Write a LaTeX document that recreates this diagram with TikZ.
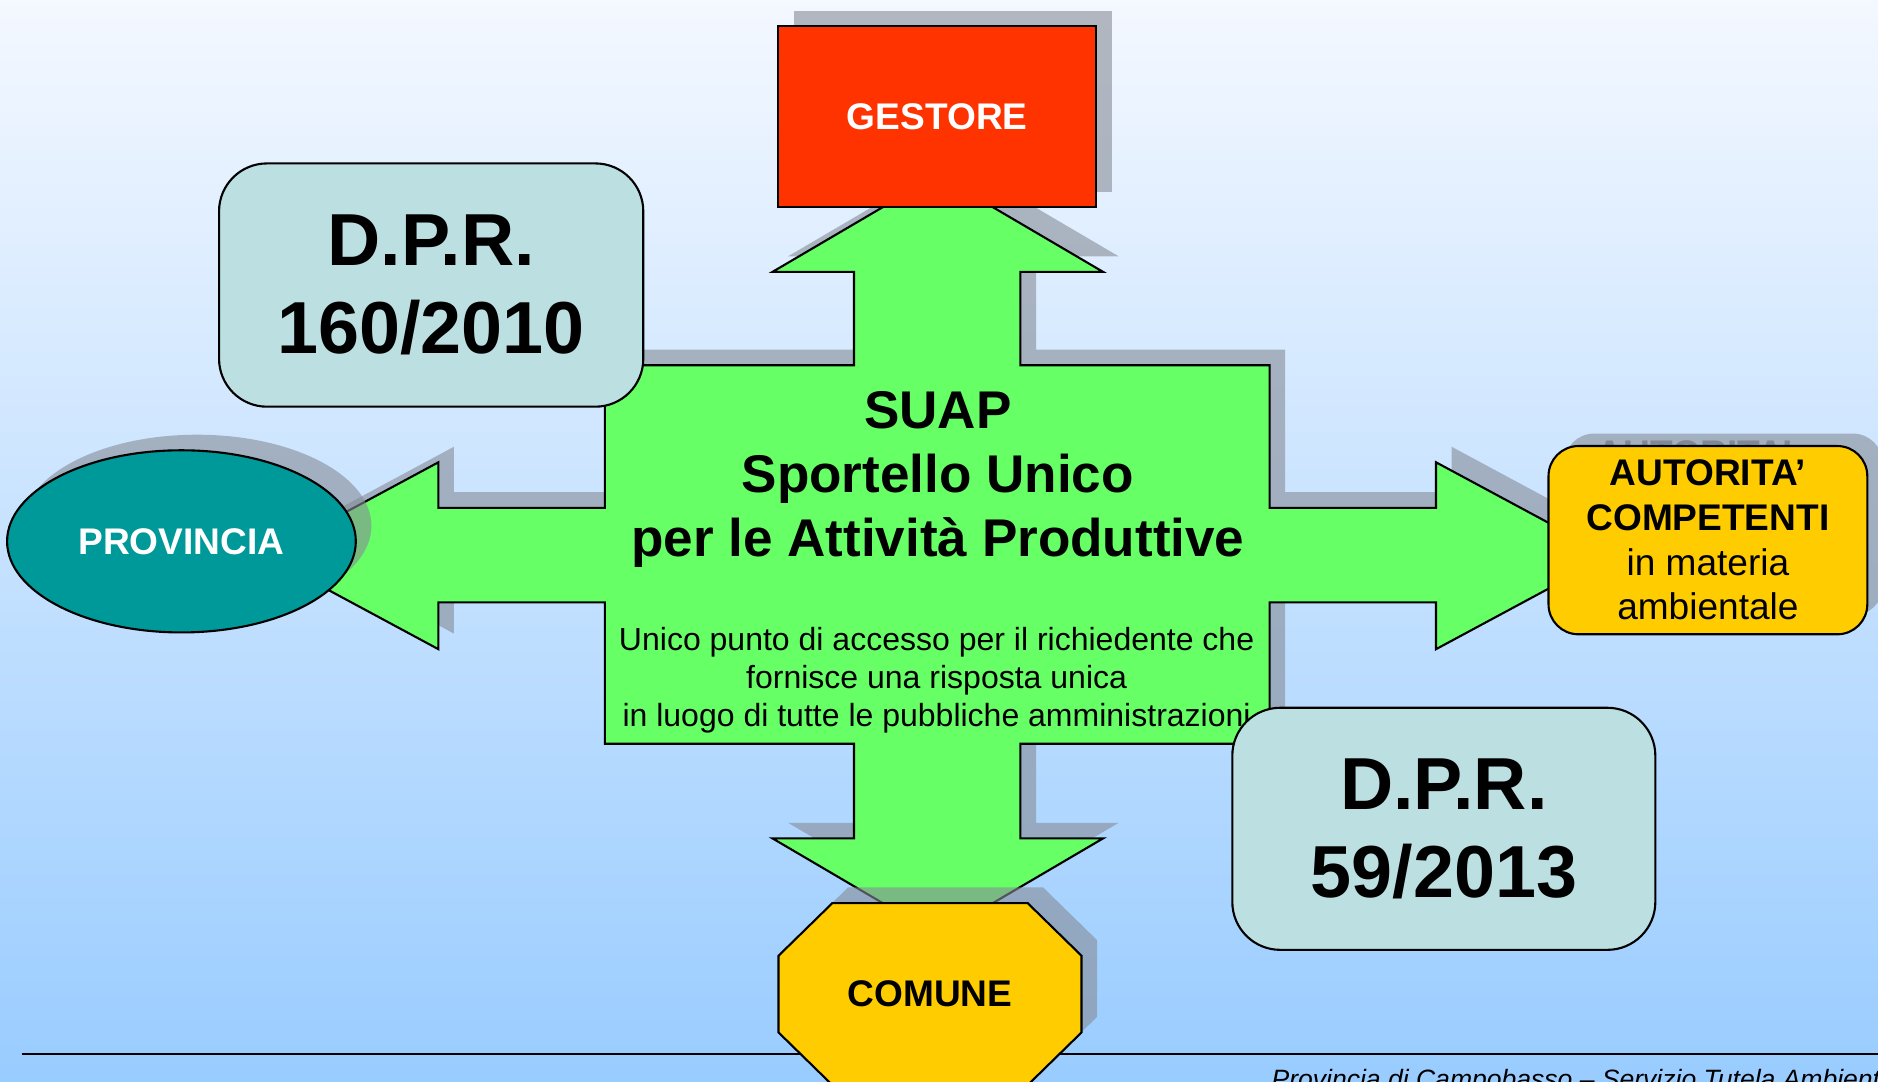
\documentclass[tikz,border=0pt]{standalone}
\usepackage{fontspec}
\setmainfont{Liberation Sans}
\usepackage{tikz}
\usetikzlibrary{shapes.geometric,shadows}

\definecolor{suapgreen}{RGB}{102,255,102}
\definecolor{gestred}{RGB}{255,51,0}
\definecolor{provteal}{RGB}{0,153,153}
\definecolor{autyellow}{RGB}{255,204,0}
\definecolor{dprblue}{RGB}{188,224,226}
\definecolor{shadowgray}{RGB}{134,140,150}
\definecolor{bgtop}{RGB}{244,248,255}
\definecolor{bgbottom}{RGB}{153,204,255}

\newcommand{\labfont}{\fontsize{8.8pt}{10.6pt}\selectfont}
\newcommand{\dprfont}{\fontsize{17.5pt}{21pt}\selectfont\bfseries}
\newcommand{\suapfont}{\fontsize{12.6pt}{15.2pt}\selectfont\bfseries}
\newcommand{\bodyfont}{\fontsize{7.6pt}{9.1pt}\selectfont}
\newcommand{\footfont}{\fontsize{6.3pt}{7.5pt}\selectfont\itshape}

\tikzset{
  box/.style={draw=black, line width=0.5pt},
  shadowed/.style={drop shadow={shadow xshift=0.13cm, shadow yshift=0.13cm, fill=shadowgray, opacity=0.6}},
}

\begin{document}
\begin{tikzpicture}[x=0.01cm,y=-0.01cm]
    \useasboundingbox (0,0) rectangle (1568,903);
    \clip (0,0) rectangle (1568,903);
    \shade[top color=bgtop, bottom color=bgbottom] (0,0) rectangle (1568,903);
    \draw[line width=0.5pt] (18,880) -- (1568,880);

    \filldraw[box, fill=suapgreen, shadowed] (505,305) -- (713,305) -- (713,227) -- (645,227) -- (783,146) -- (921,227) -- (852,227) -- (852,305)
        -- (1060,305) -- (1060,424) -- (1199,424) -- (1199,386) -- (1344,464) -- (1199,542) -- (1199,503) -- (1060,503)
        -- (1060,621) -- (852,621) -- (852,700) -- (921,700) -- (783,781) -- (645,700) -- (713,700) -- (713,621)
        -- (505,621) -- (505,503) -- (366,503) -- (366,542) -- (221,464) -- (366,386) -- (366,424) -- (505,424) -- cycle;

    \node[box, fill=gestred, shadowed, minimum width=2.65cm, minimum height=1.51cm, text=white, font=\labfont\bfseries] (gestore) at (782.5,97.5) {GESTORE};
    \node[box, ellipse, fill=provteal, shadowed, minimum width=2.91cm, minimum height=1.52cm, inner sep=0pt, text=white, font=\labfont\bfseries] (provincia) at (151.5,452) {PROVINCIA};

    \fill[shadowgray, opacity=0.6] (1306,362) [rounded corners=0.25cm] -- (1572,362) -- (1572,514) -- (1306,514) -- cycle;
    \node[text=shadowgray!70!black, opacity=0.5, font=\labfont\bfseries] (ghost) at (1415,379) {AUTORITA’};
    \node[box, fill=autyellow, rounded corners=0.25cm, minimum width=2.66cm, minimum height=1.52cm, align=center, font=\labfont] (autorita) at (1426,451)
        {{\bfseries AUTORITA’}\\{\bfseries COMPETENTI}\\in materia\\ambientale};

    \filldraw[box, fill=autyellow, shadowed] (695,754) -- (858,754) -- (903,798) -- (903,862) -- (858,906) -- (695,906) -- (650,862) -- (650,798) -- cycle;
    \node[font=\labfont\bfseries] (comune) at (776.5,830) {COMUNE};

    \node[align=center, font=\suapfont] (suap) at (783,400) {SUAP\\Sportello Unico\\per le Attività Produttive};
    \node[align=center, font=\bodyfont] (accesso) at (782,568) {Unico punto di accesso per il richiedente che\\fornisce una risposta unica\\in luogo di tutte le pubbliche amministrazioni};

    \node[box, fill=dprblue, rounded corners=0.4cm, minimum width=3.54cm, minimum height=2.03cm, align=center, font=\dprfont] (dpr160) at (360,238) {D.P.R.\\160/2010};
    \node[box, fill=dprblue, rounded corners=0.4cm, minimum width=3.53cm, minimum height=2.02cm, align=center, font=\dprfont] (dpr59) at (1205.5,692) {D.P.R.\\59/2013};

    \node[anchor=base west, inner sep=0pt, font=\footfont] (piede) at (1061,909) {Provincia di Campobasso – Servizio Tutela Ambiente};
\end{tikzpicture}
\end{document}
